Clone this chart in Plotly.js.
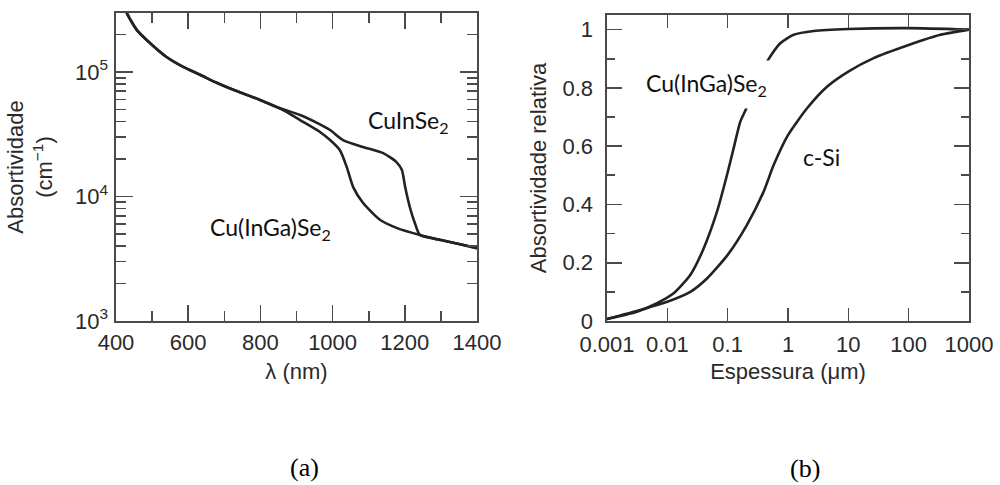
<!DOCTYPE html>
<html>
<head>
<meta charset="utf-8">
<script src="https://cdn.plot.ly/plotly-3.0.1.min.js"></script>
<style>html,body{margin:0;padding:0;background:#fff;}#chart{width:1000px;height:485px;}</style>
</head>
<body>
<div id="chart"></div>
<script>
// ---- Panel (a): absorptivity vs wavelength ----
const lamCuInSe2 = [425, 430, 458, 494, 540, 586, 633, 679, 725, 799, 845, 910, 965, 993, 1029, 1084, 1140, 1177, 1192, 1201, 1214, 1228, 1242, 1300, 1350, 1400];
const absCuInSe2 = [3.5e5, 2.98e5, 2.17e5, 1.71e5, 1.32e5, 1.10e5, 9.5e4, 8.2e4, 7.2e4, 5.96e4, 5.24e4, 4.52e4, 3.8e4, 3.42e4, 2.84e4, 2.5e4, 2.23e4, 1.89e4, 1.63e4, 1.19e4, 8.2e3, 6.1e3, 4.9e3, 4.47e3, 4.15e3, 3.85e3];
const lamCIGS = [425, 430, 458, 494, 540, 586, 633, 679, 725, 799, 863, 910, 965, 993, 1020, 1039, 1057, 1084, 1131, 1177, 1242, 1300, 1350, 1400];
const absCIGS = [3.5e5, 2.98e5, 2.17e5, 1.71e5, 1.32e5, 1.10e5, 9.5e4, 8.2e4, 7.2e4, 5.96e4, 4.95e4, 4.11e4, 3.3e4, 2.84e4, 2.36e4, 1.73e4, 1.19e4, 8.9e3, 6.5e3, 5.6e3, 4.9e3, 4.47e3, 4.15e3, 3.85e3];
const xTicksA = [400, 600, 800, 1000, 1200, 1400];
const xMinorA = [500, 700, 900, 1100, 1300];
const yTicksA = [1e3, 1e4, 1e5];
const yTickTextA = ['10<sup>3</sup>', '10<sup>4</sup>', '10<sup>5</sup>'];
const yMinorA = [2e3,3e3,4e3,5e3,6e3,7e3,8e3,9e3,2e4,3e4,4e4,5e4,6e4,7e4,8e4,9e4,2e5,3e5];

// ---- Panel (b): relative absorptivity vs thickness ----
const thkCIGS = [0.001, 0.00314, 0.00675, 0.0127, 0.024, 0.040, 0.0665, 0.0975, 0.1257, 0.162, 0.204, 0.30, 0.449, 0.746, 1.24, 2.66, 10, 100, 1000];
const relCIGS = [0.007, 0.032, 0.061, 0.095, 0.158, 0.249, 0.375, 0.501, 0.593, 0.684, 0.730, 0.82, 0.890, 0.953, 0.982, 0.995, 1.002, 1.005, 1.0];
const thkSi = [0.001, 0.00356, 0.01, 0.024, 0.0454, 0.1, 0.209, 0.395, 0.578, 1, 2.07, 4.43, 10, 26.3, 100, 335, 1000];
const relSi = [0.007, 0.038, 0.066, 0.10, 0.146, 0.227, 0.33, 0.444, 0.535, 0.638, 0.73, 0.804, 0.856, 0.902, 0.947, 0.982, 1.0];
const xTicksB = [0.001, 0.01, 0.1, 1, 10, 100, 1000];
const xTickTextB = ['0.001', '0.01', '0.1', '1', '10', '100', '1000'];
const yTicksB = [0, 0.2, 0.4, 0.6, 0.8, 1];
const yTickTextB = ['0', '0.2', '0.4', '0.6', '0.8', '1'];
const yMinorB = [0.1, 0.3, 0.5, 0.7, 0.9];

const W = 1000, H = 485;
const lineCol = '#222';
const frameCol = '#4a4a4a';
const txtCol = '#2a2a2a';
const tickFont = {family: 'Liberation Sans, Arial, sans-serif', size: 22, color: txtCol};
const annFont = {family: 'Lato, sans-serif', size: 23, color: '#111'};

const traces = [
  {x: lamCuInSe2, y: absCuInSe2, xaxis: 'x', yaxis: 'y', mode: 'lines', line: {color: lineCol, width: 2.6, shape: 'spline', smoothing: 0.6}, name: 'CuInSe2'},
  {x: lamCIGS, y: absCIGS, xaxis: 'x', yaxis: 'y', mode: 'lines', line: {color: lineCol, width: 2.6, shape: 'spline', smoothing: 0.6}, name: 'Cu(InGa)Se2'},
  {x: thkCIGS, y: relCIGS, xaxis: 'x2', yaxis: 'y2', mode: 'lines', line: {color: lineCol, width: 2.6, shape: 'spline', smoothing: 0.6}, name: 'Cu(InGa)Se2 b'},
  {x: thkSi, y: relSi, xaxis: 'x2', yaxis: 'y2', mode: 'lines', line: {color: lineCol, width: 2.6, shape: 'spline', smoothing: 0.6}, name: 'c-Si'}
];

const frame = {showline: true, linecolor: frameCol, linewidth: 1.6, mirror: 'ticks', ticks: 'inside', tickcolor: frameCol, tickwidth: 1.6, showgrid: false, zeroline: false, tickfont: tickFont};

const layout = {
  width: W, height: H,
  margin: {l: 0, r: 0, t: 0, b: 0},
  paper_bgcolor: '#fff', plot_bgcolor: '#fff',
  showlegend: false,
  xaxis: Object.assign({}, frame, {
    domain: [116/W, 477/W], range: [400, 1400], anchor: 'y',
    tickmode: 'array', tickvals: xTicksA, ticklen: 16, ticklabelstandoff: 1,
    minor: {tickvals: xMinorA, ticks: 'inside', ticklen: 10, tickwidth: 1.6, tickcolor: frameCol},
    title: {text: 'λ (nm)', font: tickFont, standoff: 9}
  }),
  yaxis: Object.assign({}, frame, {
    domain: [1 - 321/H, 1 - 13/H], type: 'log', range: [3, 5.474], anchor: 'x',
    tickmode: 'array', tickvals: yTicksA, ticktext: yTickTextA, ticklen: 17, ticklabelstandoff: 2,
    minor: {tickvals: yMinorA, ticks: 'inside', ticklen: 10, tickwidth: 1.6, tickcolor: frameCol},
    title: {text: 'Absortividade<br>(cm<sup>−1</sup>)', font: tickFont, standoff: 16}
  }),
  xaxis2: Object.assign({}, frame, {
    domain: [607/W, 969/W], type: 'log', range: [-3, 3], anchor: 'y2',
    tickmode: 'array', tickvals: xTicksB, ticktext: xTickTextB, ticklen: 13, ticklabelstandoff: 3,
    title: {text: 'Espessura (μm)', font: tickFont, standoff: 7}
  }),
  yaxis2: Object.assign({}, frame, {
    domain: [1 - 321/H, 1 - 15/H], range: [0, 1.05], anchor: 'x2',
    tickmode: 'array', tickvals: yTicksB, ticktext: yTickTextB, ticklen: 15, ticklabelstandoff: 8,
    minor: {tickvals: yMinorB, ticks: 'inside', ticklen: 8, tickwidth: 1.6, tickcolor: frameCol},
    title: {text: 'Absortividade relativa', font: tickFont, standoff: 10}
  }),
  annotations: [
    {text: 'CuInSe<sub>2</sub>', x: 408/W, y: 1 - 121/H, xref: 'paper', yref: 'paper', showarrow: false, font: annFont, xanchor: 'center', yanchor: 'middle'},
    {text: 'Cu(InGa)Se<sub>2</sub>', x: 270/W, y: 1 - 228/H, xref: 'paper', yref: 'paper', showarrow: false, font: annFont, xanchor: 'center', yanchor: 'middle'},
    {text: 'Cu(InGa)Se<sub>2</sub>', x: 706/W, y: 1 - 84/H, xref: 'paper', yref: 'paper', showarrow: false, font: annFont, xanchor: 'center', yanchor: 'middle', bgcolor: '#fff', borderpad: 8},
    {text: 'c-Si', x: 821/W, y: 1 - 157/H, xref: 'paper', yref: 'paper', showarrow: false, font: annFont, xanchor: 'center', yanchor: 'middle'},
    {text: '(a)', x: 304/W, y: 1 - 467/H, xref: 'paper', yref: 'paper', showarrow: false, font: {family: 'Liberation Serif, Times New Roman, serif', size: 26, color: '#000'}, xanchor: 'center', yanchor: 'middle'},
    {text: '(b)', x: 805/W, y: 1 - 468/H, xref: 'paper', yref: 'paper', showarrow: false, font: {family: 'Liberation Serif, Times New Roman, serif', size: 26, color: '#000'}, xanchor: 'center', yanchor: 'middle'}
  ]
};

Plotly.newPlot('chart', traces, layout, {staticPlot: true, displayModeBar: false});
</script>
</body>
</html>
